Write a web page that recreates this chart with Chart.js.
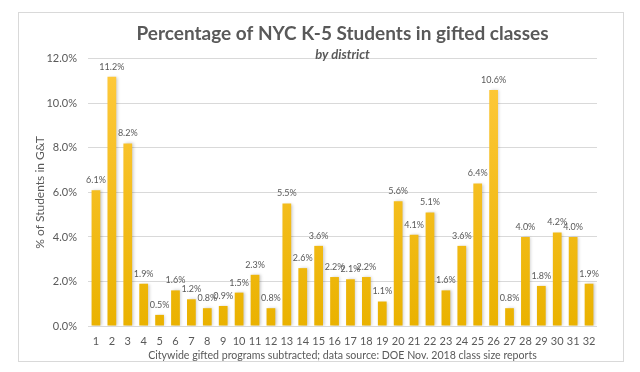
<!DOCTYPE html>
<html>
<head>
<meta charset="utf-8">
<script src="https://cdn.jsdelivr.net/npm/chart.js@4"></script>
<style>
  html, body { margin: 0; padding: 0; background: #fff; }
  #wrap { width: 640px; height: 372px; }
</style>
</head>
<body>
<div id="wrap"><canvas id="chart" width="640" height="372"></canvas></div>
<script>
const districts = ['1','2','3','4','5','6','7','8','9','10','11','12','13','14','15','16',
  '17','18','19','20','21','22','23','24','25','26','27','28','29','30','31','32'];
const pctGifted = [6.1, 11.2, 8.2, 1.9, 0.5, 1.6, 1.2, 0.8, 0.9, 1.5, 2.3, 0.8, 5.5, 2.6, 3.6, 2.2,
  2.1, 2.2, 1.1, 5.6, 4.1, 5.1, 1.6, 3.6, 6.4, 10.6, 0.8, 4.0, 1.8, 4.2, 4.0, 1.9];
const yTicks = [0, 2, 4, 6, 8, 10, 12];

const FONT = 'Lato, "Open Sans", sans-serif';
const TEXT = '#595959';

// white background and the thin frame round the whole chart
const frame = {
  id: 'frame',
  beforeDraw(chart) {
    const c = chart.ctx;
    c.save();
    c.fillStyle = '#fff';
    c.fillRect(0, 0, chart.width, chart.height);
    c.strokeStyle = '#d9d9d9';
    c.lineWidth = 1;
    c.strokeRect(18.5, 12.5, 605, 349);
    c.restore();
  }
};

// soft shadow behind the bars
const barShadow = {
  id: 'barShadow',
  beforeDatasetsDraw(chart) {
    const c = chart.ctx;
    c.save();
    c.shadowColor = 'rgba(0,0,0,0.2)';
    c.shadowBlur = 3;
    c.shadowOffsetX = 1.5;
    c.shadowOffsetY = 0;
  },
  afterDatasetsDraw(chart) {
    chart.ctx.restore();
  }
};

// value labels above each bar
const valueLabels = {
  id: 'valueLabels',
  afterDatasetsDraw(chart) {
    const c = chart.ctx;
    const meta = chart.getDatasetMeta(0);
    c.save();
    c.font = '9px ' + FONT;
    c.fillStyle = TEXT;
    c.textAlign = 'center';
    c.textBaseline = 'middle';
    meta.data.forEach((bar, i) => {
      c.fillText(pctGifted[i].toFixed(1) + '%', bar.x, bar.y - 10);
    });
    c.restore();
  }
};

new Chart(document.getElementById('chart'), {
  type: 'bar',
  data: {
    labels: districts,
    datasets: [{
      data: pctGifted,
      backgroundColor(context) {
        const area = context.chart.chartArea;
        if (!area) return '#FFC000';
        const g = context.chart.ctx.createLinearGradient(0, area.bottom, 0, area.top);
        g.addColorStop(0, '#EAB200');
        g.addColorStop(1, '#FFCA3E');
        return g;
      },
      borderWidth: 0,
      barPercentage: 0.55,
      categoryPercentage: 1
    }]
  },
  options: {
    responsive: false,
    animation: false,
    layout: { padding: { left: 30, right: 43, top: 0, bottom: 10 } },
    plugins: {
      legend: { display: false },
      tooltip: { enabled: false },
      title: {
        display: true,
        fullSize: false,
        text: 'Percentage of NYC K-5 Students in gifted classes',
        color: TEXT,
        font: { family: FONT, size: 19, weight: 'bold' },
        padding: { top: 22, bottom: 2 }
      },
      subtitle: {
        display: true,
        fullSize: false,
        text: 'by district',
        color: TEXT,
        font: { family: FONT, size: 13, weight: 'bold', style: 'italic' },
        padding: { top: 0, bottom: -3.5 }
      }
    },
    scales: {
      x: {
        grid: { display: false, drawTicks: false },
        border: { display: false },
        ticks: { color: TEXT, font: { family: FONT, size: 11 }, padding: 9, maxRotation: 0, autoSkip: false },
        title: {
          display: true,
          text: 'Citywide gifted programs subtracted; data source: DOE Nov. 2018 class size reports',
          color: TEXT,
          font: { family: FONT, size: 10.6 },
          padding: { top: 2, bottom: 0 }
        },
        afterFit(scale) { scale.height = 36; }
      },
      y: {
        min: 0,
        max: 12,
        afterBuildTicks(scale) {
          scale.ticks = yTicks.map(v => ({ value: v }));
        },
        grid: { color: '#d9d9d9', drawTicks: false },
        border: { display: false },
        ticks: {
          color: TEXT,
          font: { family: FONT, size: 11 },
          padding: 11,
          callback: v => v.toFixed(1) + '%'
        },
        title: {
          display: true,
          text: '% of Students in G&T',
          color: TEXT,
          font: { family: FONT, size: 12 },
          padding: { top: 3, bottom: 4 }
        },
        afterFit(scale) { scale.width = 58; }
      }
    }
  },
  plugins: [frame, barShadow, valueLabels]
});
</script>
</body>
</html>
